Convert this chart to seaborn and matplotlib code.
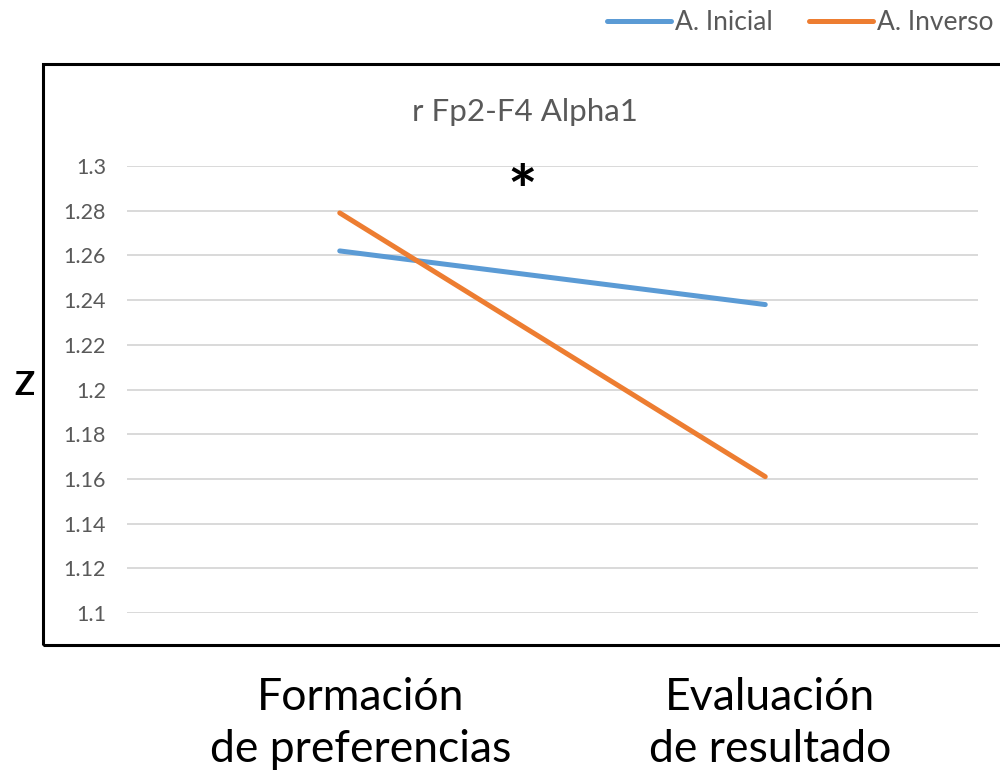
import matplotlib
matplotlib.use("Agg")
import matplotlib.pyplot as plt
import matplotlib.transforms as mtransforms
from matplotlib.patches import Rectangle
from matplotlib.lines import Line2D
import pandas as pd
import seaborn as sns

# Data
phases = ["Formación\nde preferencias", "Evaluación\nde resultado"]
inicial = [1.262, 1.238]
inverso = [1.279, 1.161]
series_names = ["A. Inicial", "A. Inverso"]
y_ticks = [1.1, 1.12, 1.14, 1.16, 1.18, 1.2, 1.22, 1.24, 1.26, 1.28, 1.3]
y_tick_labels = ["1.1", "1.12", "1.14", "1.16", "1.18", "1.2", "1.22", "1.24", "1.26", "1.28", "1.3"]
title = "r Fp2-F4 Alpha1"

df = pd.DataFrame({
    "fase": list(range(len(phases))) * 2,
    "Z": inicial + inverso,
    "serie": [series_names[0]] * len(phases) + [series_names[1]] * len(phases),
})

sns.set_theme(style="white")
plt.rcParams["font.family"] = ["Lato", "DejaVu Sans"]

colors = {"A. Inicial": "#5B9BD5", "A. Inverso": "#ED7D31"}

fig = plt.figure(figsize=(10, 7.75), dpi=100)
ax = fig.add_axes([0.127, 1 - 613 / 775, 0.978 - 0.127, (613 - 166) / 775])

sns.lineplot(data=df, x="fase", y="Z", hue="serie", palette=colors,
             linewidth=3.6, ax=ax, legend=False, sort=False)
for ln in ax.lines:
    ln.set_solid_capstyle("round")

ax.set_xlim(-0.5, len(phases) - 0.5)
ax.set_ylim(1.1, 1.3)
ax.set_yticks(y_ticks)
ax.set_yticklabels(y_tick_labels)
ax.yaxis.grid(True, color="#D9D9D9", linewidth=1.4)
ax.set_axisbelow(True)
for sp in ax.spines.values():
    sp.set_visible(False)
ax.tick_params(axis="y", length=0, pad=15, labelsize=15.5, labelcolor="#595959")
ax.set_xlabel("")
ax.set_ylabel("")

ax.set_xticks(range(len(phases)))
ax.set_xticklabels(phases, fontsize=32, color="black", linespacing=1.35)
ax.tick_params(axis="x", length=0, pad=46)
# nudge the category labels to the right
lbls = ax.get_xticklabels()
for lbl, dx in zip(lbls, [0.21, 0.05]):
    lbl.set_transform(lbl.get_transform() +
                      mtransforms.ScaledTranslation(dx, 0, fig.dpi_scale_trans))

# outer frame around the chart
fig.patches.append(Rectangle((43 / 1000, 1 - 645 / 775), 1.0, (645 - 64) / 775,
                             transform=fig.transFigure, fill=False,
                             edgecolor="black", linewidth=2.2, zorder=0))

fig.text(0.525, 1 - 112 / 775, title, ha="center", va="center",
         fontsize=22.5, color="#595959")
fig.text(0.522, 1 - 196 / 775, "*", ha="center", va="center",
         fontsize=50, color="black", fontweight="bold")
fig.text(0.024, 1 - 385 / 775, "Z", ha="center", va="center",
         fontsize=24, color="black", fontweight="bold")

handles = [Line2D([], [], color=colors[s], linewidth=3.6, solid_capstyle="round")
           for s in series_names]
fig.legend(handles, series_names, loc="center right", bbox_to_anchor=(1.017, 1 - 23 / 775),
           ncol=2, frameon=False, fontsize=19, labelcolor="#595959",
           handlelength=2.4, handletextpad=0.15, columnspacing=1.4)

fig.savefig("out.png", dpi=100)
